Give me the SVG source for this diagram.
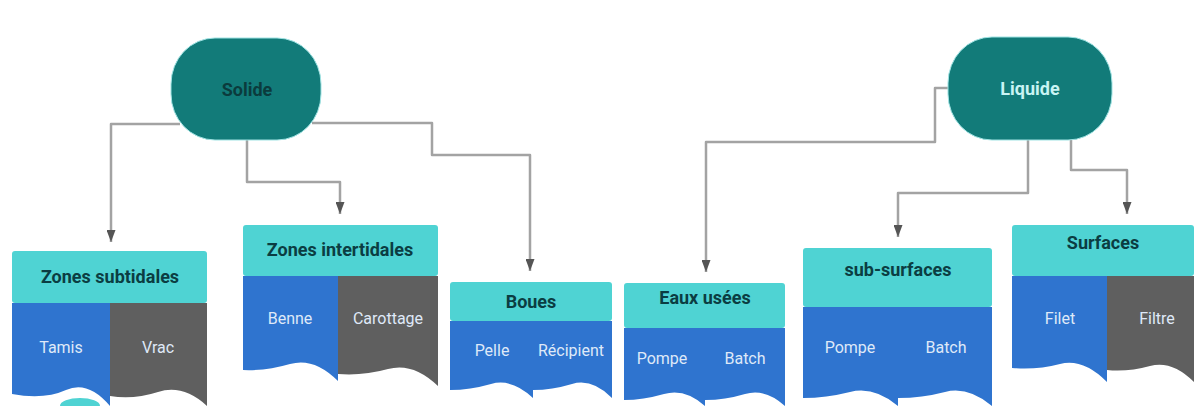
<svg xmlns="http://www.w3.org/2000/svg" width="1196" height="406" viewBox="0 0 1196 406">
<style>
.bg{fill:#ffffff}
.conn{fill:none;stroke:#a3a3a3;stroke-width:2.5;stroke-linejoin:round}
.root{fill:#127b79;stroke:#9fe3e3;stroke-width:1}
.rt1{font-family:Roboto,"Liberation Sans",sans-serif;font-weight:bold;font-size:18px;fill:#0b3b3d;text-anchor:middle}
.rt2{font-family:Roboto,"Liberation Sans",sans-serif;font-weight:bold;font-size:18px;fill:#c9f4f4;text-anchor:middle}
.hdr{fill:#4fd3d3}
.ht{font-family:Roboto,"Liberation Sans",sans-serif;font-weight:bold;font-size:18px;fill:#0b3d42;text-anchor:middle}
.blue{fill:#2f74cf}
.gray{fill:#5f5f5f}
.bt{font-family:Roboto,"Liberation Sans",sans-serif;font-size:16px;fill:#dfe9f8;text-anchor:middle}
</style>
<defs>
<marker id="arr" markerUnits="userSpaceOnUse" markerWidth="13" markerHeight="9" refX="12" refY="4.5" orient="auto">
<path d="M0,0 L12,4.5 L0,9 Z" fill="#555555"/>
</marker>
</defs>
<rect class="bg" x="0" y="0" width="1196" height="406"/>
<g id="connectors">
<path class="conn" marker-end="url(#arr)" d="M180 124 H111 V242"/>
<path class="conn" marker-end="url(#arr)" d="M247 130 V182 H340 V214"/>
<path class="conn" marker-end="url(#arr)" d="M312 123 H432 V155 H530 V271"/>
<path class="conn" marker-end="url(#arr)" d="M955 88 H935 V142 H706 V272"/>
<path class="conn" marker-end="url(#arr)" d="M1028 130 V193 H898 V237"/>
<path class="conn" marker-end="url(#arr)" d="M1071 130 V170 H1127 V214"/>
</g>
<g id="solide">
<rect class="root" x="171" y="38" width="150" height="102" rx="44" ry="46"/>
<text class="rt1" x="247" y="96">Solide</text>
</g>
<g id="liquide">
<rect class="root" x="948" y="37" width="164" height="103" rx="44" ry="46"/>
<text class="rt2" x="1030" y="95">Liquide</text>
</g>
<g id="zones-subtidales">
<ellipse cx="80" cy="406" rx="20" ry="8" fill="#4fd3d3"/>
<rect class="hdr" x="12" y="251" width="195" height="52" rx="3"/>
<text class="ht" x="110" y="283">Zones subtidales</text>
<path class="blue" d="M12 303 H110 V406 Q88 380 66 390 T12 394 Z"/>
<path class="gray" d="M110 303 H207 V406 Q183 384 158 392 T110 396 Z"/>
<text class="bt" x="61" y="353">Tamis</text>
<text class="bt" x="158" y="353">Vrac</text>
</g>
<g id="zones-intertidales">
<rect class="hdr" x="243" y="225" width="195" height="51" rx="3"/>
<text class="ht" x="340" y="256">Zones intertidales</text>
<path class="blue" d="M243 276 H338 V381 Q314 357 290 364 T243 370 Z"/>
<path class="gray" d="M338 276 H438 V386 Q413 362 388 369 T338 374 Z"/>
<text class="bt" x="290" y="324">Benne</text>
<text class="bt" x="388" y="324">Carottage</text>
</g>
<g id="boues">
<rect class="hdr" x="450" y="282" width="162" height="39" rx="3"/>
<text class="ht" x="531" y="308">Boues</text>
<path class="blue" d="M450 321 H533 V398 Q512 378 491 384 T450 390 Z"/>
<path class="blue" d="M533 321 H612 V398 Q592 378 572 384 T533 390 Z"/>
<text class="bt" x="492" y="356">Pelle</text>
<text class="bt" x="571" y="356">Récipient</text>
</g>
<g id="eaux-usees">
<rect class="hdr" x="624" y="283" width="161" height="45" rx="3"/>
<text class="ht" x="705" y="304">Eaux usées</text>
<path class="blue" d="M624 328 H705 V406 Q685 388 664 394 T624 400 Z"/>
<path class="blue" d="M705 328 H785 V406 Q765 388 745 394 T705 400 Z"/>
<text class="bt" x="662" y="364">Pompe</text>
<text class="bt" x="745" y="364">Batch</text>
</g>
<g id="sub-surfaces">
<rect class="hdr" x="803" y="248" width="189" height="59" rx="3"/>
<text class="ht" x="898" y="276">sub-surfaces</text>
<path class="blue" d="M803 307 H898 V406 Q874 386 850 392 T803 398 Z"/>
<path class="blue" d="M898 307 H992 V406 Q968 386 945 392 T898 398 Z"/>
<text class="bt" x="850" y="353">Pompe</text>
<text class="bt" x="946" y="353">Batch</text>
</g>
<g id="surfaces">
<rect class="hdr" x="1012" y="225" width="182" height="51" rx="3"/>
<text class="ht" x="1103" y="249">Surfaces</text>
<path class="blue" d="M1012 276 H1107 V382 Q1083 358 1060 364 T1012 368 Z"/>
<path class="gray" d="M1107 276 H1194 V382 Q1172 360 1150 366 T1107 370 Z"/>
<text class="bt" x="1060" y="324">Filet</text>
<text class="bt" x="1157" y="324">Filtre</text>
</g>
</svg>
